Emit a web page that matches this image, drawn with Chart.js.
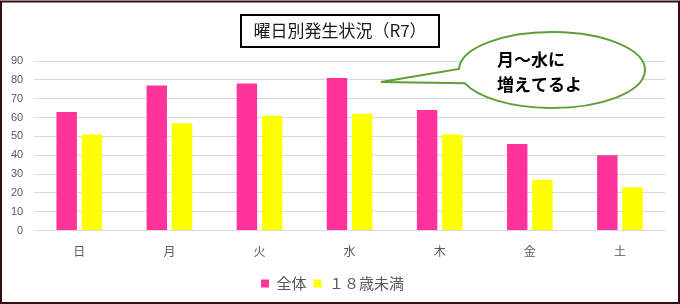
<!DOCTYPE html>
<html>
<head>
<meta charset="utf-8">
<script src="https://cdn.jsdelivr.net/npm/chart.js@4"></script>
<style>
    html, body { margin: 0; padding: 0; background: #ffffff; }
    #wrap { width: 680px; height: 304px; position: relative; }
</style>
</head>
<body>
<div id="wrap"><canvas id="weekdayChart"></canvas></div>
<script>
// Weekday labels and counts (R7)
const days = ['日', '月', '火', '水', '木', '金', '土'];
const allCounts = [63, 77, 78, 81, 64, 46, 40];
const under18Counts = [51, 57, 61, 62, 51, 27, 23];
const seriesNames = ['全体', '１８歳未満'];
const yTicks = [0, 10, 20, 30, 40, 50, 60, 70, 80, 90];

const jpFont = '"Noto Sans CJK JP", "Noto Sans", sans-serif';
const numFont = '"Liberation Sans", Arial, sans-serif';

// Draws the frame, the boxed title and the speech bubble
const decorations = {
    id: 'decorations',
    beforeDraw(chart) {
        const ctx = chart.ctx;
        ctx.save();
        ctx.fillStyle = '#ffffff';
        ctx.fillRect(0, 0, chart.width, chart.height);
        ctx.restore();
    },
    afterDraw(chart) {
        const ctx = chart.ctx;
        ctx.save();

        // outer frame
        ctx.strokeStyle = '#3a0d0d';
        ctx.lineWidth = 2;
        ctx.strokeRect(1, 1.5, chart.width - 2, chart.height - 2.5);

        // title box
        ctx.fillStyle = '#ffffff';
        ctx.fillRect(241, 15, 198, 32);
        ctx.strokeStyle = '#000000';
        ctx.lineWidth = 2;
        ctx.strokeRect(241, 15, 198, 32);
        ctx.fillStyle = '#1a1a1a';
        ctx.font = '17px ' + jpFont;
        ctx.textAlign = 'center';
        ctx.textBaseline = 'middle';
        ctx.fillText('曜日別発生状況（R7）', 340, 31);

        // speech bubble
        const cx = 552, cy = 70, rx = 93, ry = 38;
        const a1 = Math.atan2((69 - cy) / ry, (460 - cx) / rx);
        const a2 = Math.atan2((83 - cy) / ry, (466 - cx) / rx);
        ctx.beginPath();
        ctx.ellipse(cx, cy, rx, ry, 0, a1, a2, false);
        ctx.lineTo(381, 82);
        ctx.closePath();
        ctx.fillStyle = '#ffffff';
        ctx.fill();
        ctx.strokeStyle = '#5da03a';
        ctx.lineWidth = 2;
        ctx.stroke();

        ctx.fillStyle = '#000000';
        ctx.font = 'bold 17px ' + jpFont;
        ctx.textAlign = 'left';
        ctx.textBaseline = 'middle';
        ctx.fillText('月～水に', 497, 60);
        ctx.fillText('増えてるよ', 497, 85);

        ctx.restore();
    }
};

const data = {
    labels: days,
    datasets: [
        {
            label: seriesNames[0],
            data: allCounts,
            backgroundColor: '#ff3399',
            categoryPercentage: 0.56,
            barPercentage: 0.81
        },
        {
            label: seriesNames[1],
            data: under18Counts,
            backgroundColor: '#ffff00',
            categoryPercentage: 0.56,
            barPercentage: 0.81
        }
    ]
};

const config = {
    type: 'bar',
    data: data,
    options: {
        responsive: true,
        maintainAspectRatio: false,
        animation: false,
        layout: {
            padding: { top: 61, right: 15, left: 0, bottom: 3 }
        },
        scales: {
            x: {
                grid: { display: false },
                border: { display: false },
                ticks: {
                    color: '#595959',
                    font: { family: jpFont, size: 12 },
                    padding: 6
                },
                afterFit: (axis) => {
                    axis.height += 4;
                }
            },
            y: {
                min: 0,
                max: 90,
                afterBuildTicks: (axis) => {
                    axis.ticks = yTicks.map(v => ({ value: v }));
                },
                grid: { color: '#d9d9d9', drawTicks: false },
                border: { display: false },
                ticks: {
                    color: '#595959',
                    font: { family: numFont, size: 11 },
                    padding: 11
                }
            }
        },
        plugins: {
            legend: {
                position: 'bottom',
                labels: {
                    boxWidth: 8,
                    boxHeight: 8,
                    color: '#595959',
                    font: { family: jpFont, size: 15 },
                    padding: 7
                }
            },
            tooltip: { enabled: false }
        }
    },
    plugins: [decorations]
};

document.addEventListener('DOMContentLoaded', function() {
    new Chart(document.getElementById('weekdayChart'), config);
});
</script>
</body>
</html>
